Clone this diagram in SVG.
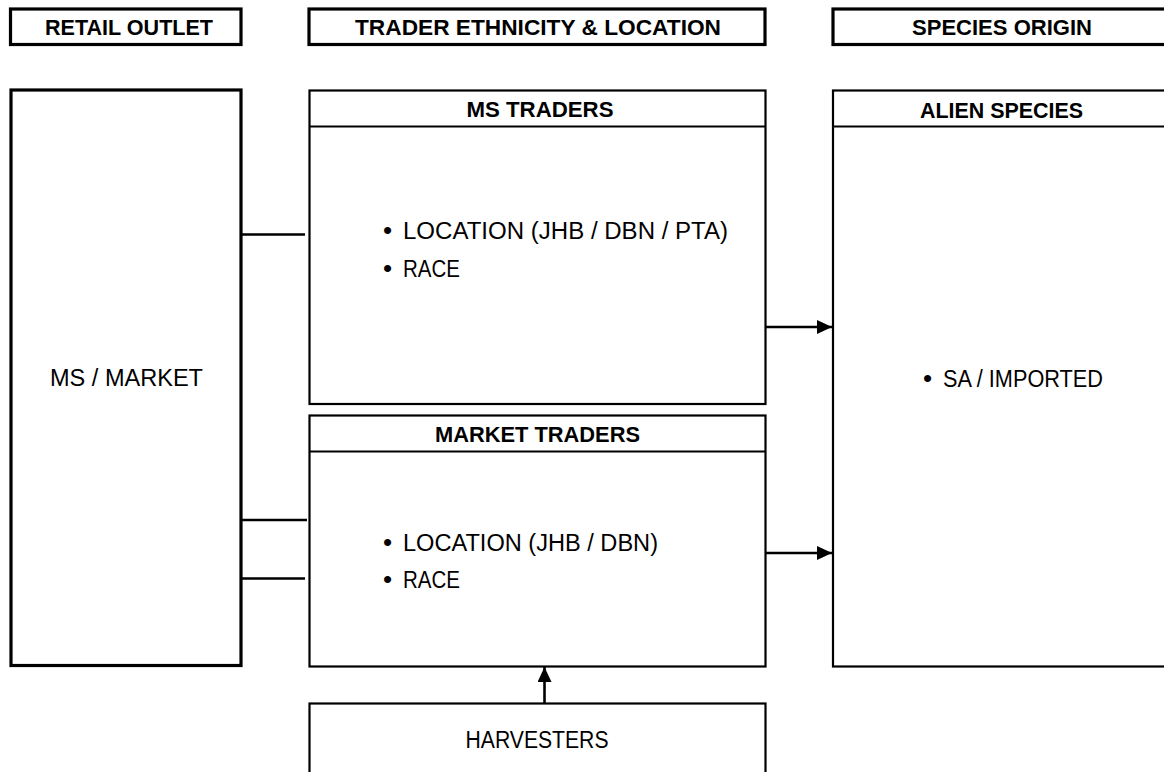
<svg xmlns="http://www.w3.org/2000/svg" width="1164" height="772" viewBox="0 0 1164 772">
<defs>
<style>
.hdr{fill:#fff;stroke:#000;stroke-width:3.2}
.box{fill:#fff;stroke:#000;stroke-width:2.2}
.div{stroke:#000;stroke-width:2.2}
.b{font-family:"Liberation Sans",Arial,sans-serif;font-weight:bold;font-size:22px;fill:#000}
.t{font-family:"Liberation Sans",Arial,sans-serif;font-size:23px;fill:#000}
.bul{font-family:"Liberation Sans",Arial,sans-serif;font-size:26px;fill:#000}
.con{stroke:#000;stroke-width:2.6;fill:none}
</style>
<marker id="ah" markerUnits="userSpaceOnUse" markerWidth="16" markerHeight="14" refX="15" refY="7" orient="auto">
<path d="M0,0 L15,7 L0,14 Z" fill="#000"/>
</marker>
</defs>
<rect width="1164" height="772" fill="#fff"/>

<g id="hdr-retail">
<rect class="hdr" x="10.5" y="9" width="230.5" height="35.5"/>
<text class="b" x="129" y="34.5" text-anchor="middle" textLength="168" lengthAdjust="spacingAndGlyphs">RETAIL OUTLET</text>
</g>
<g id="hdr-trader">
<rect class="hdr" x="309" y="9" width="456" height="35.5"/>
<text class="b" x="538" y="34.5" text-anchor="middle" textLength="366" lengthAdjust="spacingAndGlyphs">TRADER ETHNICITY &amp; LOCATION</text>
</g>
<g id="hdr-species">
<rect class="hdr" x="833" y="9" width="340" height="35.5"/>
<text class="b" x="1002" y="34.5" text-anchor="middle" textLength="180" lengthAdjust="spacingAndGlyphs">SPECIES ORIGIN</text>
</g>

<g id="ms-market">
<rect class="hdr" x="11" y="90" width="230" height="575.5"/>
<text class="t" x="126.5" y="386" text-anchor="middle" textLength="153" lengthAdjust="spacingAndGlyphs">MS / MARKET</text>
</g>

<g id="ms-traders">
<rect class="box" x="309.5" y="90.5" width="456" height="313.5"/>
<line class="div" x1="309.5" y1="126.5" x2="765.5" y2="126.5"/>
<text class="b" x="540" y="117" text-anchor="middle" textLength="147" lengthAdjust="spacingAndGlyphs">MS TRADERS</text>
<text class="bul" x="383" y="239">•</text>
<text class="t" x="403" y="239" textLength="325" lengthAdjust="spacingAndGlyphs">LOCATION (JHB / DBN / PTA)</text>
<text class="bul" x="383" y="277">•</text>
<text class="t" x="403" y="277" textLength="57" lengthAdjust="spacingAndGlyphs">RACE</text>
</g>

<g id="market-traders">
<rect class="box" x="309.5" y="415.5" width="456" height="251"/>
<line class="div" x1="309.5" y1="451.5" x2="765.5" y2="451.5"/>
<text class="b" x="537.5" y="442" text-anchor="middle" textLength="205" lengthAdjust="spacingAndGlyphs">MARKET TRADERS</text>
<text class="bul" x="383" y="551">•</text>
<text class="t" x="403" y="551" textLength="255" lengthAdjust="spacingAndGlyphs">LOCATION (JHB / DBN)</text>
<text class="bul" x="383" y="588">•</text>
<text class="t" x="403" y="588" textLength="57" lengthAdjust="spacingAndGlyphs">RACE</text>
</g>

<g id="alien-species">
<rect class="box" x="833" y="90.5" width="340" height="576"/>
<line class="div" x1="833" y1="126.5" x2="1173" y2="126.5"/>
<text class="b" x="1001.5" y="118" text-anchor="middle" textLength="163" lengthAdjust="spacingAndGlyphs">ALIEN SPECIES</text>
<text class="bul" x="923" y="387">•</text>
<text class="t" x="943" y="387" textLength="160" lengthAdjust="spacingAndGlyphs">SA / IMPORTED</text>
</g>

<g id="harvesters">
<rect class="box" x="309.5" y="703.5" width="456" height="80"/>
<text class="t" x="537" y="748" text-anchor="middle" textLength="143" lengthAdjust="spacingAndGlyphs">HARVESTERS</text>
</g>

<g id="connectors">
<line class="con" x1="242" y1="234.5" x2="305" y2="234.5"/>
<line class="con" x1="242" y1="520" x2="307" y2="520"/>
<line class="con" x1="242" y1="578.5" x2="305" y2="578.5"/>
<line class="con" x1="766" y1="327" x2="832" y2="327" marker-end="url(#ah)"/>
<line class="con" x1="766" y1="553" x2="832" y2="553" marker-end="url(#ah)"/>
<line class="con" x1="544.5" y1="703" x2="544.5" y2="667" marker-end="url(#ah)"/>
</g>
</svg>
